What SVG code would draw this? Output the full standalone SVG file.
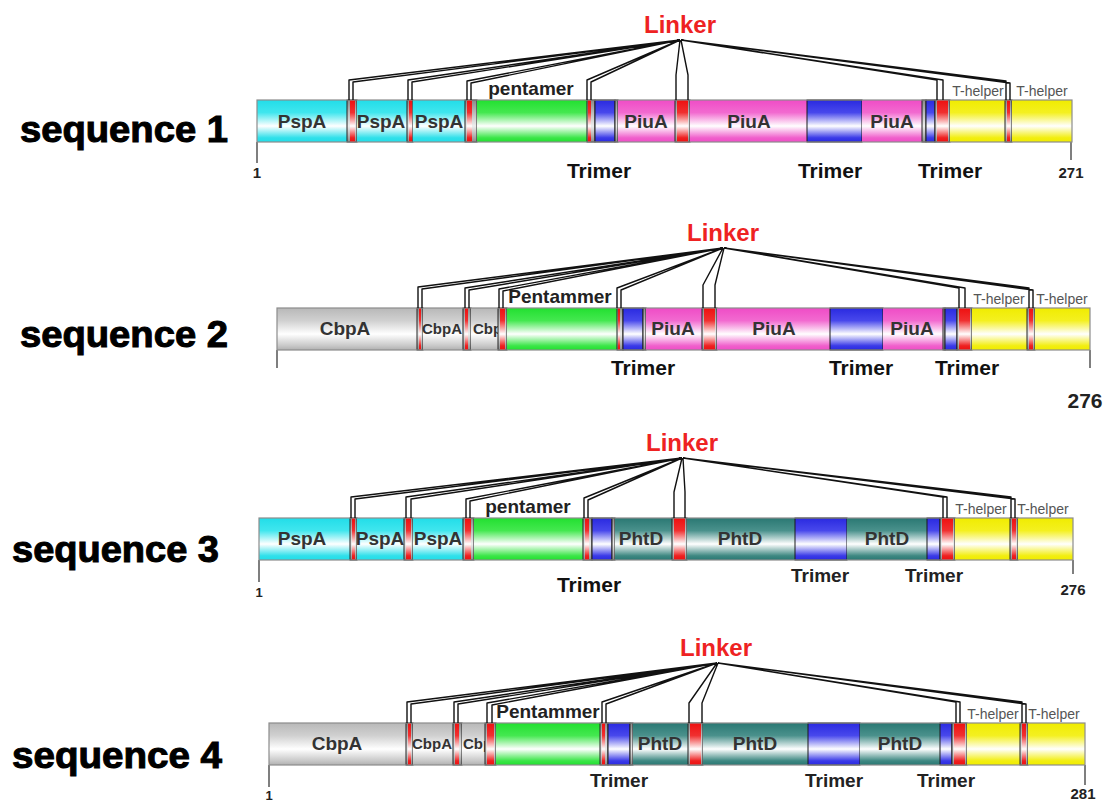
<svg xmlns="http://www.w3.org/2000/svg" width="1109" height="801" viewBox="0 0 1109 801">
<defs>
<linearGradient id="gCy" x1="0" y1="0" x2="0" y2="1"><stop offset="0" stop-color="#22dde8"/><stop offset="0.3" stop-color="#40e6ee"/><stop offset="0.62" stop-color="#ffffff"/><stop offset="0.9" stop-color="#30e0ea"/><stop offset="1" stop-color="#22dde8"/></linearGradient>
<linearGradient id="gGr" x1="0" y1="0" x2="0" y2="1"><stop offset="0" stop-color="#b8b8b8"/><stop offset="0.3" stop-color="#d0d0d0"/><stop offset="0.62" stop-color="#ffffff"/><stop offset="0.9" stop-color="#c8c8c8"/><stop offset="1" stop-color="#b0b0b0"/></linearGradient>
<linearGradient id="gGn" x1="0" y1="0" x2="0" y2="1"><stop offset="0" stop-color="#22e030"/><stop offset="0.3" stop-color="#44e850"/><stop offset="0.62" stop-color="#ffffff"/><stop offset="0.9" stop-color="#3be648"/><stop offset="1" stop-color="#22e030"/></linearGradient>
<linearGradient id="gBl" x1="0" y1="0" x2="0" y2="1"><stop offset="0" stop-color="#2a2ae0"/><stop offset="0.3" stop-color="#4848ec"/><stop offset="0.62" stop-color="#ffffff"/><stop offset="0.9" stop-color="#3a3ae8"/><stop offset="1" stop-color="#2a2ae0"/></linearGradient>
<linearGradient id="gPk" x1="0" y1="0" x2="0" y2="1"><stop offset="0" stop-color="#ef4cc6"/><stop offset="0.3" stop-color="#f26ad0"/><stop offset="0.62" stop-color="#ffffff"/><stop offset="0.9" stop-color="#f060cc"/><stop offset="1" stop-color="#ef4cc6"/></linearGradient>
<linearGradient id="gTl" x1="0" y1="0" x2="0" y2="1"><stop offset="0" stop-color="#2a7873"/><stop offset="0.3" stop-color="#4a918c"/><stop offset="0.62" stop-color="#ffffff"/><stop offset="0.9" stop-color="#3e8882"/><stop offset="1" stop-color="#2a7873"/></linearGradient>
<linearGradient id="gYe" x1="0" y1="0" x2="0" y2="1"><stop offset="0" stop-color="#f0ec00"/><stop offset="0.3" stop-color="#f4f020"/><stop offset="0.62" stop-color="#ffffff"/><stop offset="0.9" stop-color="#f2ee10"/><stop offset="1" stop-color="#f0ec00"/></linearGradient>
<linearGradient id="gRd" x1="0" y1="0" x2="0" y2="1"><stop offset="0" stop-color="#ee1010"/><stop offset="0.3" stop-color="#f03030"/><stop offset="0.62" stop-color="#ffffff"/><stop offset="0.9" stop-color="#ee2020"/><stop offset="1" stop-color="#ee1010"/></linearGradient>
<linearGradient id="gLk" x1="0" y1="0" x2="0" y2="1"><stop offset="0" stop-color="#8a8a8a"/><stop offset="0.62" stop-color="#eeeeee"/><stop offset="1" stop-color="#8a8a8a"/></linearGradient>
<clipPath id="c2"><rect x="471" y="308" width="27" height="42"/></clipPath>
<clipPath id="c4"><rect x="462" y="723" width="23" height="42"/></clipPath>
<style>
.cy{fill:url(#gCy)}.gr{fill:url(#gGr)}.gn{fill:url(#gGn)}.bl{fill:url(#gBl);stroke:#1a1a1a;stroke-width:1}
.pk{fill:url(#gPk)}.tl{fill:url(#gTl)}.ye{fill:url(#gYe)}
.lk{fill:url(#gLk);stroke:#222;stroke-width:1}.rd{fill:url(#gRd)}
.ol{fill:none;stroke:#8c8c8c;stroke-width:1.2}
.tk{stroke:#555;stroke-width:1.5}
.seg{font-family:"Liberation Sans",Arial,sans-serif;font-weight:bold;font-size:19px;fill:#333;text-anchor:middle}
.sm{font-size:15px}
.top{font-family:"Liberation Sans",Arial,sans-serif;font-weight:bold;font-size:19px;fill:#222;text-anchor:middle}
.th{font-family:"Liberation Sans",Arial,sans-serif;font-size:14px;fill:#555;text-anchor:middle}
.tri{font-family:"Liberation Sans",Arial,sans-serif;font-weight:bold;font-size:21px;fill:#111;text-anchor:middle}
.tri2{font-size:19px;fill:#222}
.lnk{font-family:"Liberation Sans",Arial,sans-serif;font-weight:bold;font-size:24px;fill:#ee2222;text-anchor:middle}
.num{font-family:"Liberation Sans",Arial,sans-serif;font-weight:bold;font-size:15px;fill:#222;text-anchor:middle}
.seq{font-family:"Liberation Sans",Arial,sans-serif;font-weight:bold;font-size:36px;fill:#000;stroke:#000;stroke-width:1}
.cn{fill:none;stroke:#111;stroke-width:1.4;stroke-linejoin:round}
</style>
</defs>
<rect width="1109" height="801" fill="#fff"/>

<!-- Sequence 1 -->
<g id="seq1">
<text class="seq" x="20" y="142" textLength="208" lengthAdjust="spacingAndGlyphs">sequence 1</text>
<line class="tk" x1="257" y1="142" x2="257" y2="163"/>
<line class="tk" x1="1071" y1="142" x2="1071" y2="160"/>
<rect class="cy" x="257" y="100" width="90" height="42"/>
<rect class="lk" x="347" y="100" width="10" height="42"/><rect class="rd" x="350" y="100" width="5" height="42"/>
<rect class="cy" x="357" y="100" width="50" height="42"/>
<rect class="lk" x="407" y="100" width="6" height="42"/><rect class="rd" x="409" y="100" width="3" height="42"/>
<rect class="cy" x="413" y="100" width="52" height="42"/>
<rect class="lk" x="465" y="100" width="12" height="42"/><rect class="rd" x="467" y="100" width="5" height="42"/>
<rect class="gn" x="477" y="100" width="110" height="42"/>
<rect class="lk" x="587" y="100" width="8" height="42"/><rect class="rd" x="588" y="100" width="3" height="42"/>
<rect class="bl" x="595" y="100" width="20" height="42"/>
<rect class="lk" x="615" y="100" width="3" height="42"/>
<rect class="pk" x="618" y="100" width="57" height="42"/>
<rect class="lk" x="675" y="100" width="15" height="42"/><rect class="rd" x="677" y="100" width="11" height="42"/>
<rect class="pk" x="690" y="100" width="117" height="42"/>
<rect class="bl" x="807" y="100" width="55" height="42"/>
<rect class="pk" x="862" y="100" width="60" height="42"/>
<rect class="lk" x="922" y="100" width="4" height="42"/>
<rect class="bl" x="926" y="100" width="9" height="42"/>
<rect class="lk" x="935" y="100" width="15" height="42"/><rect class="rd" x="937" y="100" width="11" height="42"/>
<rect class="ye" x="950" y="100" width="55" height="42"/>
<rect class="lk" x="1005" y="100" width="7" height="42"/><rect class="rd" x="1007" y="100" width="3" height="42"/>
<rect class="ye" x="1012" y="100" width="60" height="42"/>
<rect class="ol" x="257" y="100" width="815" height="42"/>
<text class="seg" x="302" y="128">PspA</text>
<text class="seg" x="381" y="128">PspA</text>
<text class="seg" x="439" y="128">PspA</text>
<text class="seg" x="646" y="128">PiuA</text>
<text class="seg" x="749" y="128">PiuA</text>
<text class="seg" x="892" y="128">PiuA</text>
<text class="top" x="531" y="95">pentamer</text>
<text class="th" x="978" y="96">T-helper</text>
<text class="th" x="1042" y="96">T-helper</text>
<text class="lnk" x="680" y="33">Linker</text>
<text class="tri" x="599" y="178">Trimer</text>
<text class="tri" x="830" y="178">Trimer</text>
<text class="tri" x="950" y="178">Trimer</text>
<text class="num" x="257" y="178">1</text>
<text class="num" x="1071" y="178">271</text>
</g>

<!-- Sequence 2 -->
<g id="seq2">
<text class="seq" x="20" y="347" textLength="208" lengthAdjust="spacingAndGlyphs">sequence 2</text>
<line class="tk" x1="277" y1="350" x2="277" y2="368"/>
<line class="tk" x1="1090" y1="350" x2="1090" y2="368"/>
<rect class="gr" x="277" y="308" width="140" height="42"/>
<rect class="lk" x="417" y="308" width="6" height="42"/><rect class="rd" x="419" y="308" width="2" height="42"/>
<rect class="gr" x="423" y="308" width="40" height="42"/>
<rect class="lk" x="463" y="308" width="8" height="42"/><rect class="rd" x="465" y="308" width="3" height="42"/>
<rect class="gr" x="471" y="308" width="27" height="42"/>
<rect class="lk" x="498" y="308" width="9" height="42"/><rect class="rd" x="500" y="308" width="5" height="42"/>
<rect class="gn" x="507" y="308" width="110" height="42"/>
<rect class="lk" x="617" y="308" width="6" height="42"/><rect class="rd" x="618" y="308" width="2" height="42"/>
<rect class="bl" x="623" y="308" width="20" height="42"/>
<rect class="lk" x="643" y="308" width="3" height="42"/>
<rect class="pk" x="646" y="308" width="56" height="42"/>
<rect class="lk" x="702" y="308" width="15" height="42"/><rect class="rd" x="704" y="308" width="11" height="42"/>
<rect class="pk" x="717" y="308" width="113" height="42"/>
<rect class="bl" x="830" y="308" width="53" height="42"/>
<rect class="pk" x="883" y="308" width="60" height="42"/>
<rect class="lk" x="943" y="308" width="2" height="42"/>
<rect class="bl" x="945" y="308" width="12" height="42"/>
<rect class="lk" x="957" y="308" width="15" height="42"/><rect class="rd" x="959" y="308" width="11" height="42"/>
<rect class="ye" x="972" y="308" width="55" height="42"/>
<rect class="lk" x="1027" y="308" width="8" height="42"/><rect class="rd" x="1029" y="308" width="4" height="42"/>
<rect class="ye" x="1035" y="308" width="55" height="42"/>
<rect class="ol" x="277" y="308" width="813" height="42"/>
<text class="seg" x="345" y="335">CbpA</text>
<text class="seg sm" x="442" y="334">CbpA</text>
<text class="seg sm" x="473" y="334" style="text-anchor:start" clip-path="url(#c2)">CbpA</text>
<text class="seg" x="673" y="335">PiuA</text>
<text class="seg" x="774" y="335">PiuA</text>
<text class="seg" x="912" y="335">PiuA</text>
<text class="top" x="560" y="303">Pentammer</text>
<text class="th" x="999" y="304">T-helper</text>
<text class="th" x="1062" y="304">T-helper</text>
<text class="lnk" x="723" y="241">Linker</text>
<text class="tri" x="643" y="375">Trimer</text>
<text class="tri" x="861" y="375">Trimer</text>
<text class="tri" x="967" y="375">Trimer</text>
<text class="num" x="1085" y="408" style="font-size:21px">276</text>
</g>

<!-- Sequence 3 -->
<g id="seq3">
<text class="seq" x="12" y="562" textLength="207" lengthAdjust="spacingAndGlyphs">sequence 3</text>
<line class="tk" x1="259" y1="560" x2="259" y2="582"/>
<line class="tk" x1="1073" y1="560" x2="1073" y2="574"/>
<rect class="cy" x="259" y="518" width="91" height="42"/>
<rect class="lk" x="350" y="518" width="7" height="42"/><rect class="rd" x="352" y="518" width="3" height="42"/>
<rect class="cy" x="357" y="518" width="47" height="42"/>
<rect class="lk" x="404" y="518" width="9" height="42"/><rect class="rd" x="406" y="518" width="5" height="42"/>
<rect class="cy" x="413" y="518" width="50" height="42"/>
<rect class="lk" x="463" y="518" width="11" height="42"/><rect class="rd" x="465" y="518" width="6" height="42"/>
<rect class="gn" x="474" y="518" width="109" height="42"/>
<rect class="lk" x="583" y="518" width="9" height="42"/><rect class="rd" x="585" y="518" width="4" height="42"/>
<rect class="bl" x="592" y="518" width="20" height="42"/>
<rect class="lk" x="612" y="518" width="3" height="42"/>
<rect class="tl" x="615" y="518" width="57" height="42"/>
<rect class="lk" x="672" y="518" width="15" height="42"/><rect class="rd" x="674" y="518" width="11" height="42"/>
<rect class="tl" x="687" y="518" width="108" height="42"/>
<rect class="bl" x="795" y="518" width="52" height="42"/>
<rect class="tl" x="847" y="518" width="80" height="42"/>
<rect class="bl" x="927" y="518" width="13" height="42"/>
<rect class="lk" x="940" y="518" width="15" height="42"/><rect class="rd" x="942" y="518" width="11" height="42"/>
<rect class="ye" x="955" y="518" width="55" height="42"/>
<rect class="lk" x="1010" y="518" width="8" height="42"/><rect class="rd" x="1012" y="518" width="4" height="42"/>
<rect class="ye" x="1018" y="518" width="55" height="42"/>
<rect class="ol" x="259" y="518" width="814" height="42"/>
<text class="seg" x="302" y="545">PspA</text>
<text class="seg" x="380" y="545">PspA</text>
<text class="seg" x="438" y="545">PspA</text>
<text class="seg" x="641" y="545">PhtD</text>
<text class="seg" x="740" y="545">PhtD</text>
<text class="seg" x="887" y="545">PhtD</text>
<text class="top" x="528" y="513">pentamer</text>
<text class="th" x="981" y="514">T-helper</text>
<text class="th" x="1043" y="514">T-helper</text>
<text class="lnk" x="682" y="451">Linker</text>
<text class="tri" x="589" y="592">Trimer</text>
<text class="tri tri2" x="820" y="582">Trimer</text>
<text class="tri tri2" x="934" y="582">Trimer</text>
<text class="num" x="259" y="597" style="font-size:13px">1</text>
<text class="num" x="1073" y="595">276</text>
</g>

<!-- Sequence 4 -->
<g id="seq4">
<text class="seq" x="12" y="768" textLength="210" lengthAdjust="spacingAndGlyphs">sequence 4</text>
<line class="tk" x1="269" y1="765" x2="269" y2="787"/>
<line class="tk" x1="1085" y1="765" x2="1085" y2="785"/>
<rect class="gr" x="269" y="723" width="137" height="42"/>
<rect class="lk" x="406" y="723" width="7" height="42"/><rect class="rd" x="408" y="723" width="3" height="42"/>
<rect class="gr" x="413" y="723" width="40" height="42"/>
<rect class="lk" x="453" y="723" width="9" height="42"/><rect class="rd" x="455" y="723" width="4" height="42"/>
<rect class="gr" x="462" y="723" width="23" height="42"/>
<rect class="lk" x="485" y="723" width="11" height="42"/><rect class="rd" x="487" y="723" width="7" height="42"/>
<rect class="gn" x="496" y="723" width="104" height="42"/>
<rect class="lk" x="600" y="723" width="8" height="42"/><rect class="rd" x="602" y="723" width="3" height="42"/>
<rect class="bl" x="608" y="723" width="22" height="42"/>
<rect class="lk" x="630" y="723" width="3" height="42"/>
<rect class="tl" x="633" y="723" width="55" height="42"/>
<rect class="lk" x="688" y="723" width="15" height="42"/><rect class="rd" x="690" y="723" width="11" height="42"/>
<rect class="tl" x="703" y="723" width="105" height="42"/>
<rect class="bl" x="808" y="723" width="52" height="42"/>
<rect class="tl" x="860" y="723" width="80" height="42"/>
<rect class="bl" x="940" y="723" width="12" height="42"/>
<rect class="lk" x="952" y="723" width="15" height="42"/><rect class="rd" x="954" y="723" width="11" height="42"/>
<rect class="ye" x="967" y="723" width="53" height="42"/>
<rect class="lk" x="1020" y="723" width="8" height="42"/><rect class="rd" x="1022" y="723" width="4" height="42"/>
<rect class="ye" x="1028" y="723" width="57" height="42"/>
<rect class="ol" x="269" y="723" width="816" height="42"/>
<text class="seg" x="337" y="750">CbpA</text>
<text class="seg sm" x="432" y="749">CbpA</text>
<text class="seg sm" x="463" y="749" style="text-anchor:start" clip-path="url(#c4)">CbpA</text>
<text class="seg" x="660" y="750">PhtD</text>
<text class="seg" x="755" y="750">PhtD</text>
<text class="seg" x="900" y="750">PhtD</text>
<text class="top" x="548" y="718">Pentammer</text>
<text class="th" x="993" y="719">T-helper</text>
<text class="th" x="1054" y="719">T-helper</text>
<text class="lnk" x="716" y="656">Linker</text>
<text class="tri tri2" x="619" y="787">Trimer</text>
<text class="tri tri2" x="834" y="787">Trimer</text>
<text class="tri tri2" x="946" y="787">Trimer</text>
<text class="num" x="269" y="800" style="font-size:13px">1</text>
<text class="num" x="1083" y="799">281</text>
</g>

<!-- Connectors -->
<g id="connectors" class="cn">
<path d="M349,100V80L680,40M353,100V82L680,40M408,100V80L680,40M412,100V82L680,40M467,100V81L680,40M471,100V83L680,40M587,100V80L680,40M591,100V82L680,40M676,100V75L680,40M688,100V75L681,40M937,100V80L681,40M943,100V80L681,40M1006,100V81L681,40M1010,100V83L681,40"/>
<path d="M418,308V287L723,248M422,308V289L723,248M465,308V288L723,248M469,308V290L723,248M499,308V289L723,248M503,308V291L723,248M617,308V288L723,248M621,308V290L723,248M703,308V285L723,248M715,308V285L724,248M959,308V288L724,248M965,308V288L724,248M1029,308V288L724,248M1033,308V290L724,248"/>
<path d="M351,518V497L682,458M355,518V499L682,458M406,518V497L682,458M411,518V499L682,458M466,518V499L682,458M470,518V501L682,458M584,518V498L682,458M588,518V500L682,458M674,518V492L682,458M685,518V492L683,458M943,518V497L683,458M947,518V497L683,458M1011,518V497L683,458M1015,518V499L683,458"/>
<path d="M407,723V702L717,663M411,723V704L717,663M454,723V702L717,663M458,723V704L717,663M487,723V703L717,663M492,723V705L717,663M602,723V702L717,663M606,723V704L717,663M689,723V703L717,663M702,723V703L718,663M956,723V702L718,663M960,723V702L718,663M1022,723V702L718,663M1026,723V704L718,663"/>
</g>
</svg>
